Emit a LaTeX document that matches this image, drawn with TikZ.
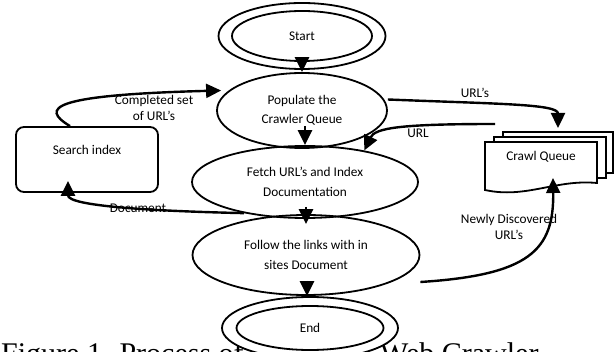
\documentclass[tikz,border=0pt]{standalone}
\usepackage{fontspec}
\setmainfont{Carlito}
\newfontfamily\capfont{Liberation Serif}
\usetikzlibrary{shapes.geometric,arrows.meta}

\tikzset{
  stage/.style={ellipse, draw, line width=1.8pt, inner sep=0pt, align=center,
    font=\fontsize{13.3}{19.5}\selectfont},
  ring/.style={ellipse, draw, line width=1.8pt, inner sep=0pt},
  store/.style={draw, rounded corners=8pt, line width=1.8pt, align=center},
  sheet/.style={draw, fill=white, line width=1.8pt},
  flow/.style={line width=2.4pt, -{Triangle[width=14pt,length=15pt]}},
  lbl/.style={inner sep=0pt, align=center, font=\fontsize{13.3}{16.5}\selectfont},
  caption/.style={anchor=base west, inner sep=0pt, font=\capfont\fontsize{30}{36}\selectfont}
}

\begin{document}
\begin{tikzpicture}[x=1pt, y=-1pt, font=\fontsize{13.3}{20}\selectfont]
\useasboundingbox (0,0) rectangle (615,352);

% caption, partly under the End ellipse
\node[caption] (capa) at (1,363) {Figure 1. Process of};
\node[caption] (capb) at (380,363) {Web Crawler};

% nodes
\node[ring, minimum width=167pt, minimum height=66pt] (startring) at (302,36) {};
\node[stage, minimum width=140pt, minimum height=50pt] (start) at (302,36) {Start};
\node[stage, minimum width=170pt, minimum height=75pt] (pop) at (302,110.5) {Populate the\\Crawler Queue};
\node[stage, minimum width=226pt, minimum height=72pt] (fetch) at (305,182) {Fetch URL's and Index\\Documentation};
\node[stage, minimum width=227pt, minimum height=80pt] (follow) at (306,255) {Follow the links with in\\sites Document};
\node[ring, fill=white, minimum width=176pt, minimum height=62pt] (stopring) at (310,328) {};
\node[stage, minimum width=147pt, minimum height=44pt] (stop) at (310,328) {End};

\node[store, minimum width=142pt, minimum height=65pt] (search) at (87,159.5) {Search index\\~};

% crawl queue: three stacked sheets
\coordinate (cq) at (541,157);
\begin{scope}[shift={(cq)}]
\draw[sheet] (-38,-25) rectangle (72,16);
\draw[sheet] (-47,-20) rectangle (65,21);
\draw[sheet] (-56,-15) -- (56,-15) -- (56,26) .. controls (15,22) and (-15,42) .. (-56,33) -- cycle;
\end{scope}
\node[lbl] (crawl) at (cq) {Crawl Queue};

% arrows
\draw[flow] ([yshift=4pt]start.south) -- (pop.north);
\draw[flow] ([xshift=3pt,yshift=23pt]pop.south) -- (fetch.north);
\draw[flow] ([xshift=1pt,yshift=12pt]fetch.south) -- ([yshift=-10pt]follow.north);
\draw[flow] ([xshift=1pt,yshift=15pt]follow.south) -- ([xshift=-3pt]stopring.north);

\draw[flow] ([xshift=-17pt]search.north) .. controls (40,108) and (50,95) .. ([xshift=5pt,yshift=20pt]pop.west);
\draw[flow] ([yshift=11pt]pop.east) .. controls (500,104) and (558,104) .. ([xshift=17pt,yshift=29pt]crawl.center);
\coordinate (urlsrc) at (495,124);
\draw[flow] (urlsrc) .. controls (400,124) and (375,128) .. (fetch.28);
\draw[flow] (fetch.207) .. controls (150,211) and (68,206) .. ([xshift=-19pt,yshift=12pt]search.south);
\draw[flow] ([yshift=-27pt]follow.east) .. controls (530,275) and (554,250) .. ([xshift=12pt,yshift=-21pt]crawl.center);

% labels
\node[lbl] (lcomp) at (154,108) {Completed set\\of URL's};
\node[lbl] (lurls) at (475,93) {URL's};
\node[lbl] (lurl) at (418,133) {URL};
\node[lbl] (ldoc) at (138,208) {Document};
\node[lbl] (lnew) at (509,227) {Newly Discovered\\URL's};

\end{tikzpicture}
\end{document}
